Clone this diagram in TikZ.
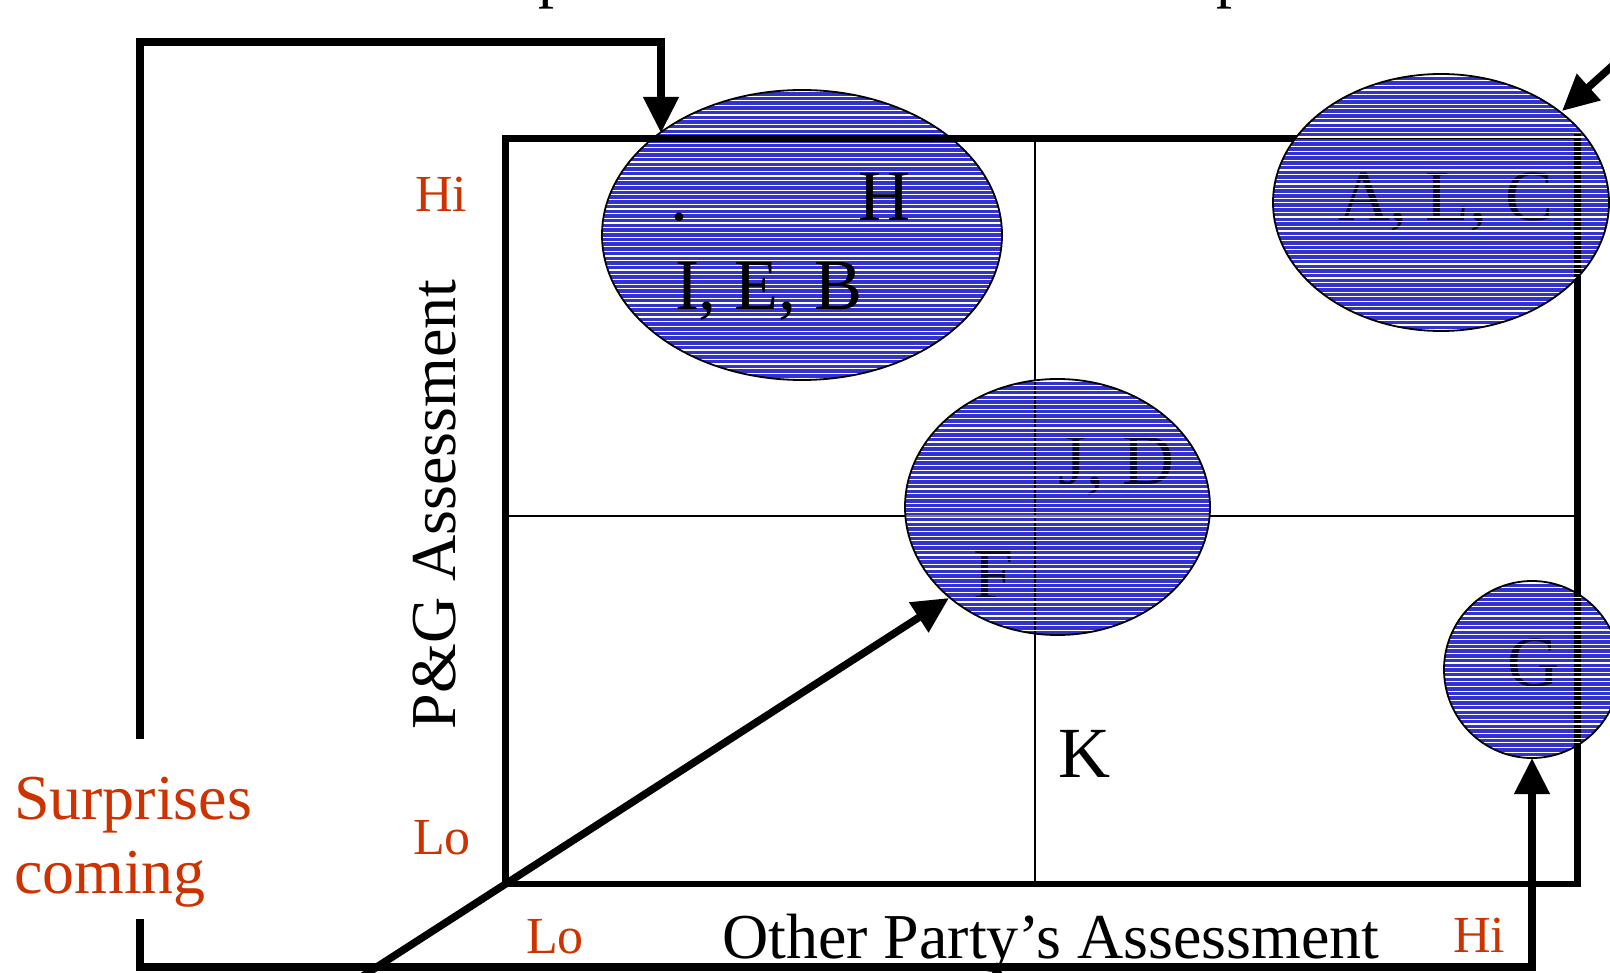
\documentclass[tikz,border=0pt]{standalone}
\usepackage{fontspec}
\setmainfont{Liberation Serif}
\usetikzlibrary{arrows.meta}
\definecolor{fillblue}{RGB}{51,51,204}
\definecolor{lblred}{RGB}{204,51,0}
\definecolor{hidtext}{RGB}{10,10,50}
\tikzset{
  thickline/.style={line width=6.5pt},
  thinline/.style={line width=2pt},
  conn/.style={line width=7.5pt, line cap=butt, line join=miter},
  arr/.style={conn, -{Triangle[length=36pt,width=34pt]}},
  lbl/.style={inner sep=0pt, outer sep=0pt, anchor=base west},
  bigtxt/.style={font=\fontsize{64}{74}\selectfont},
  hugetxt/.style={font=\fontsize{72}{80}\selectfont},
  axlbl/.style={lbl, text=lblred, font=\fontsize{52}{60}\selectfont},
  stripe/.style={white, line width=1.2pt},
  oval/.style={draw=black, line width=1.8pt},
}
\begin{document}
\begin{tikzpicture}[x=1pt,y=-1pt]
\useasboundingbox (0,0) rectangle (1610,973);
% ---- coordinates
\coordinate (bTL) at (505.5,138.5);
\coordinate (bTR) at (1577.5,138.5);
\coordinate (bBR) at (1577.5,884);
\coordinate (bBL) at (505.5,884);
\coordinate (mT) at (1035,138.5);
\coordinate (mB) at (1035,884);
\coordinate (mL) at (505.5,516);
\coordinate (mR) at (1577.5,516);
\coordinate (ieb) at (802,235);
\coordinate (alc) at (1441,202.5);
\coordinate (jd) at (1057.5,507);
\coordinate (g) at (1532,669.5);
% ---- title fragments (cut off at the top)
\node[lbl, bigtxt] (t1) at (538,-4) {p};
\node[lbl, bigtxt] (t2) at (1216,-4) {p};
% ---- grid
\draw[thinline] (mT) -- (mB);
\draw[thinline] (mL) -- (mR);
\draw[thickline] (bTL) rectangle (bBR);
% ---- ellipse I,E,B / H
\begin{scope}
  \clip (ieb) ellipse [x radius=200pt, y radius=145pt];
  \fill[fillblue] (600,88) rectangle (1004,382);
  \foreach \yy in {91.5,96.2,...,382} \draw[stripe] (600,\yy) -- (1004,\yy);
\end{scope}
\draw[oval] (ieb) ellipse [x radius=200pt, y radius=145pt];
\draw[thickline] (598,138.5) -- (1006,138.5);
\node[lbl, hugetxt] (H) at (858,221) {H};
\node[lbl, hugetxt] (dot) at (670,221) {.};
\node[lbl, hugetxt] (iebt) at (675,310) {I, E, B};
% ---- ellipse A, L, C
\begin{scope}
  \clip (alc) ellipse [x radius=168pt, y radius=128.5pt];
  \fill[fillblue] (1270,72) rectangle (1612,334);
  \draw[thinline] (1270,138.5) -- (bTR);
  \draw[thickline] (1577.5,134) -- (1577.5,334);
  \node[lbl, hugetxt, text=hidtext] (alct) at (1338,221) {A, L, C};
  \foreach \yy in {76,80.7,...,334} \draw[stripe] (1270,\yy) -- (1612,\yy);
\end{scope}
\draw[oval] (alc) ellipse [x radius=168pt, y radius=128.5pt];
% ---- ellipse J, D / F
\begin{scope}
  \clip (jd) ellipse [x radius=152.5pt, y radius=128pt];
  \fill[fillblue] (902,376) rectangle (1213,638);
  \draw[thinline] (1035,376) -- (1035,638);
  \draw[line width=1.5pt, gray] (902,516) -- (1213,516);
  \node[lbl, hugetxt, text=hidtext] (jdt) at (1058,485) {J, D};
  \node[lbl, hugetxt, text=hidtext] (ft) at (973,598) {F};
  \foreach \yy in {381,385.7,...,638} \draw[stripe] (902,\yy) -- (1213,\yy);
\end{scope}
\draw[oval] (jd) ellipse [x radius=152.5pt, y radius=128pt];
% ---- circle G
\begin{scope}
  \clip (g) ellipse [x radius=88pt, y radius=88.5pt];
  \fill[fillblue] (1442,579) rectangle (1622,760);
  \draw[thickline] (1577.5,579) -- (1577.5,760);
  \node[lbl, hugetxt, text=hidtext] (gt) at (1507,686) {G};
  \foreach \yy in {583,587.7,...,760} \draw[stripe] (1442,\yy) -- (1622,\yy);
\end{scope}
\draw[oval] (g) ellipse [x radius=88pt, y radius=88.5pt];
% ---- K
\node[lbl, hugetxt] (K) at (1058,777) {K};
% ---- axis labels
\node[axlbl] (hiY) at (415,212) {Hi};
\node[axlbl] (loY) at (413,854) {Lo};
\node[axlbl] (loX) at (526,953) {Lo};
\node[axlbl] (hiX) at (1453,952) {Hi};
\node[lbl, bigtxt, rotate=90] (pg) at (455,729) {P\&G Assessment};
\node[lbl, bigtxt] (op) at (722,958) {Other Party’s Assessment};
\node[lbl, bigtxt, text=lblred] (sur) at (14,819) {Surprises};
\node[lbl, bigtxt, text=lblred] (com) at (14,893) {coming};
% ---- connectors
\coordinate (sTop) at (140,739);
\coordinate (sBot) at (140,919);
\coordinate (cTL) at (661,42);
\coordinate (cBR) at (1532,967);
\coordinate (iebTip) at (661,133);
\coordinate (gTip) at (1532,758);
\coordinate (jdTip) at (949,598);
\coordinate (dStart) at (352,983);
\coordinate (alcTip) at (1562,111);
\coordinate (trStart) at (1630,50);
\draw[arr] (sTop) |- (cTL) -- (iebTip);
\draw[arr] (sBot) |- (cBR) -- (gTip);
\draw[arr] (dStart) -- (jdTip);
\draw[arr] (trStart) -- (alcTip);
\fill (991,975) -- (997,962) -- (1003,975) -- cycle;
\end{tikzpicture}
\end{document}
